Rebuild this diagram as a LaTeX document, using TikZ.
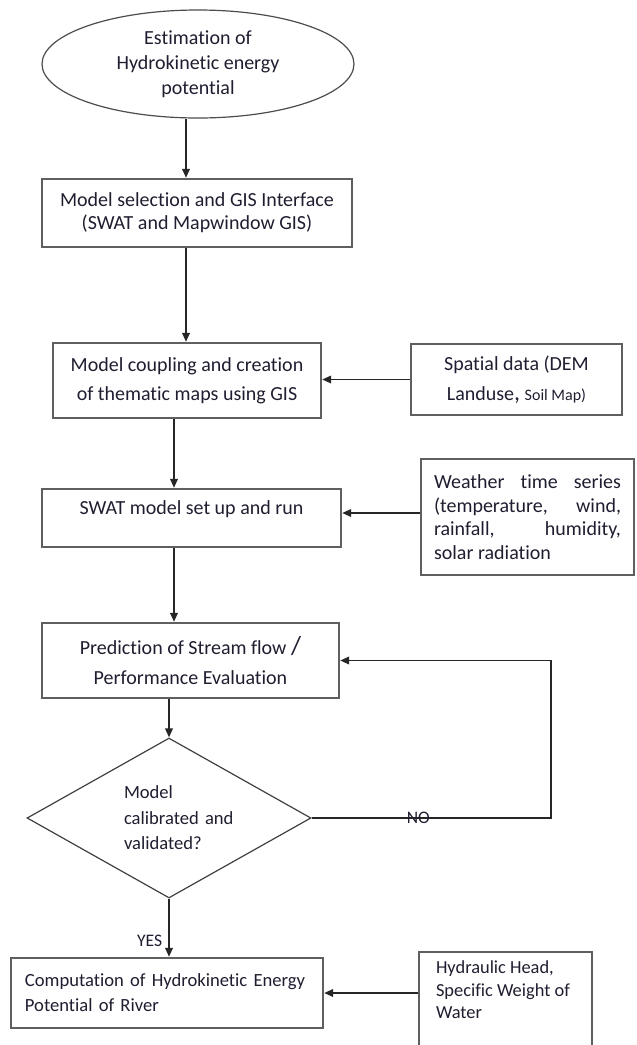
\documentclass[tikz,border=0pt]{standalone}
\usepackage{fontspec}
\setmainfont[Ligatures=NoCommon]{Carlito}
\usetikzlibrary{shapes.geometric,arrows.meta}
\definecolor{txt}{RGB}{30,30,48}
\definecolor{bordr}{RGB}{95,95,95}
\begin{document}
\begin{tikzpicture}[x=0.5pt,y=-0.5pt,
  every node/.style={text=txt},
  boxn/.style={draw=bordr, line width=1.2pt, rectangle, inner sep=0pt, align=center},
  arr/.style={draw=black!85, line width=0.9pt, -{Triangle[length=4.5pt,width=3.8pt]}},
  small/.style={font=\fontsize{8.8}{10}\selectfont}
]
\useasboundingbox (0,0) rectangle (637,1045);

\node[ellipse, draw=black!70, line width=0.6pt, minimum width=156pt, minimum height=54pt,
      inner sep=0pt, align=center, font=\fontsize{10}{12.5}\selectfont]
      (ell) at (198,64) {Estimation of\\Hydrokinetic energy\\potential};

\node[boxn, minimum width=155pt, minimum height=34pt, font=\fontsize{10}{11.5}\selectfont]
      (sel) at (197,213) {Model selection and GIS Interface\\(SWAT and Mapwindow GIS)};

\node[boxn, minimum width=134pt, minimum height=37.5pt, font=\fontsize{10}{14.5}\selectfont]
      (cpl) at (187,380.5) {Model coupling and creation\\of thematic maps using GIS};

\node[boxn, minimum width=105.5pt, minimum height=35.5pt, font=\fontsize{10}{15}\selectfont]
      (spa) at (516.5,379.5) {Spatial data (DEM\\Landuse{\fontsize{12}{15}\selectfont,} {\fontsize{8}{15}\selectfont Soil Map)}};

\node[boxn, minimum width=149.5pt, minimum height=29pt, text height=7pt, text depth=11pt,
      font=\fontsize{10}{12}\selectfont]
      (swat) at (191.5,518) {SWAT model set up and run};

\node[boxn, minimum width=106.5pt, minimum height=58pt, text width=93.5pt, align=justify,
      font=\fontsize{10}{11.85}\selectfont]
      (wea) at (527.5,517) {\hyphenpenalty=10000 Weather time series\linebreak (temperature, wind,\linebreak rainfall, humidity,\linebreak solar radiation};

\node[boxn, minimum width=148.5pt, minimum height=37.5pt, font=\fontsize{10}{15}\selectfont]
      (pred) at (190.5,660.5) {Prediction of Stream flow {\fontsize{13}{15}\selectfont /}\\Performance Evaluation};

\node[diamond, draw=black!75, line width=0.6pt, minimum width=142pt, minimum height=80pt,
      inner sep=0pt, text width=45pt, align=left, font=\fontsize{9.3}{12.75}\selectfont]
      (dia) at (169,818) {Model\\calibrated~and\\validated?};

\node[boxn, minimum width=156pt, minimum height=35pt, text width=142pt, align=left,
      font=\fontsize{9.3}{12.5}\selectfont]
      (comp) at (167,993) {Computation of Hydrokinetic Energy\\Potential of River};

\node[draw=bordr, line width=1.2pt, inner sep=0pt, font=\fontsize{9.2}{11.25}\selectfont]
      (hyd) at (505.5,1011) {\parbox[c][59pt][t]{86.5pt}{\raggedright\leftskip=8.5pt\vspace*{4.5pt}Hydraulic Head,\\Specific Weight of\\Water}};

\draw[arr] ([xshift=-6pt]ell.south) -- ([xshift=-6pt]ell.south |- sel.north);
\draw[arr] ([xshift=-5.5pt]sel.south) -- ([xshift=-5.5pt]sel.south |- cpl.north);
\draw[arr] ([xshift=-6.5pt]cpl.south) -- ([xshift=-6.5pt]cpl.south |- swat.north);
\draw[arr] ([xshift=-8.75pt]swat.south) -- ([xshift=-8.75pt]swat.south |- pred.north);
\draw[arr] (dia.north |- pred.south) -- (dia.north);
\draw[arr] (dia.south) -- node[pos=0.73, left, inner sep=2pt, xshift=-1pt, small] (yes) {YES} (dia.south |- comp.north);
\coordinate (loop) at (551,659);
\draw[arr] (dia.east) -- node[pos=0.446, inner sep=0pt, small] (no) {NO} (dia.east -| loop) |- (pred.east);
\draw[arr] (spa.west) -- (spa.west -| cpl.east);
\draw[arr] ([yshift=2pt]wea.west) -- ([yshift=2pt]wea.west -| swat.east);
\draw[arr] (comp.east -| hyd.west) -- (comp.east);
\end{tikzpicture}
\end{document}
